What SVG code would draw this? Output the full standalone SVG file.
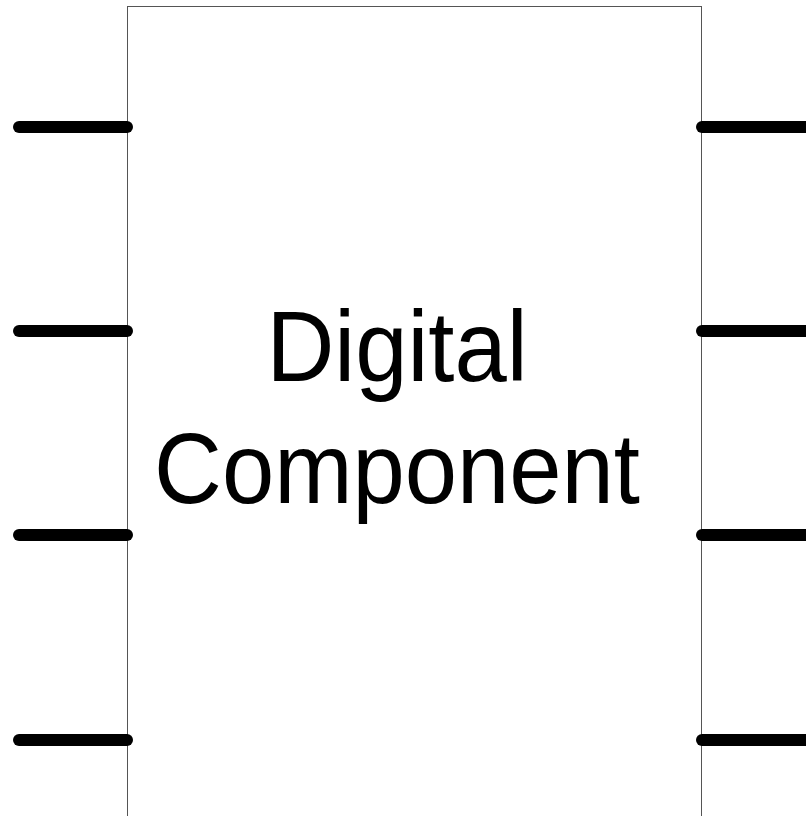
<svg xmlns="http://www.w3.org/2000/svg" width="806" height="816" viewBox="0 0 806 816">
<style>
.box{fill:#fff;stroke:#555;stroke-width:1}
.pin{stroke:#000;stroke-width:12;stroke-linecap:round;fill:none}
.lbl{font-family:"Liberation Sans",Arial,sans-serif;font-size:100px;fill:#000;text-anchor:middle}
</style>
<rect width="806" height="816" fill="#fff"/>
<g id="component">
<rect class="box" x="127.5" y="6.5" width="574" height="830"/>
<g transform="translate(397,0) scale(0.94,1)">
<text class="lbl" x="0" y="381">Digital</text>
<text class="lbl" x="0" y="503">Component</text>
</g>
</g>
<g id="connectors">
<line class="pin" x1="19" y1="127" x2="127" y2="127"/>
<line class="pin" x1="19" y1="331" x2="127" y2="331"/>
<line class="pin" x1="19" y1="535" x2="127" y2="535"/>
<line class="pin" x1="19" y1="740" x2="127" y2="740"/>
<line class="pin" x1="702" y1="127" x2="820" y2="127"/>
<line class="pin" x1="702" y1="331" x2="820" y2="331"/>
<line class="pin" x1="702" y1="535" x2="820" y2="535"/>
<line class="pin" x1="702" y1="740" x2="820" y2="740"/>
</g>
</svg>
